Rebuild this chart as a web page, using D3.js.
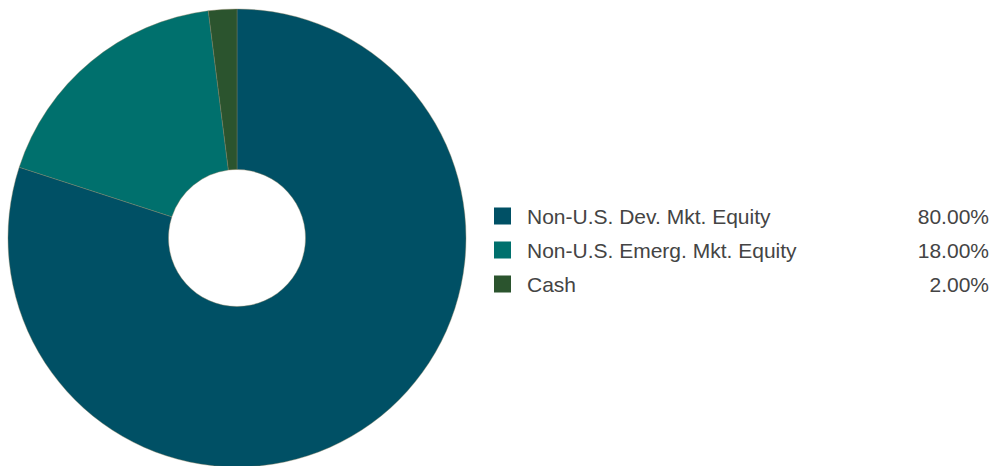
<!DOCTYPE html>
<html>
<head>
<meta charset="utf-8">
<script src="https://cdn.jsdelivr.net/npm/d3@7"></script>
<style>
  html, body { margin: 0; padding: 0; background: #fff; }
  svg { display: block; }
  text { font-family: "Liberation Sans", Arial, sans-serif; fill: #444; }
</style>
</head>
<body>
<svg id="chart" width="992" height="466"></svg>
<script>
// Portfolio allocation
const categories = ["Non-U.S. Dev. Mkt. Equity", "Non-U.S. Emerg. Mkt. Equity", "Cash"];
const values = [80.00, 18.00, 2.00];
const valueLabels = ["80.00%", "18.00%", "2.00%"];
const colors = ["#005065", "#00706d", "#2b542e"];

const svg = d3.select("#chart");
const cx = 237, cy = 238, outerR = 229, innerR = 68.5;

const data = categories.map((c, i) => ({ name: c, value: values[i], label: valueLabels[i], color: colors[i] }));

const pie = d3.pie().sort(null).value(d => d.value);
const arc = d3.arc().innerRadius(innerR).outerRadius(outerR);

svg.append("g")
  .attr("transform", `translate(${cx},${cy})`)
  .selectAll("path")
  .data(pie(data))
  .join("path")
  .attr("d", arc)
  .attr("fill", d => d.data.color)
  .attr("stroke", "#8a8060")
  .attr("stroke-width", 0.4);

// Legend
const legend = svg.append("g");
const rowY = d3.scalePoint().domain(categories).range([216, 284]);

const rows = legend.selectAll("g")
  .data(data)
  .join("g")
  .attr("transform", d => `translate(0,${rowY(d.name)})`);

rows.append("rect")
  .attr("x", 494).attr("y", -8.5)
  .attr("width", 17).attr("height", 17)
  .attr("fill", d => d.color);

rows.append("text")
  .attr("x", 527).attr("y", 8)
  .attr("font-size", 21)
  .text(d => d.name);

rows.append("text")
  .attr("x", 989).attr("y", 8)
  .attr("font-size", 21)
  .attr("text-anchor", "end")
  .text(d => d.label);
</script>
</body>
</html>
